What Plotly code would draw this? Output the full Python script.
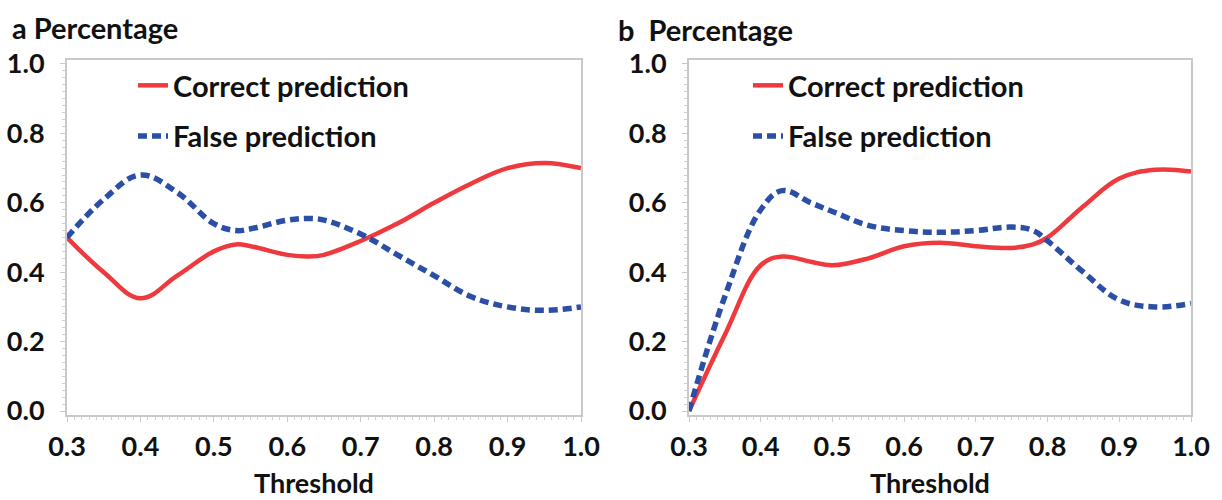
import plotly.graph_objects as go

# ---------------- data ----------------
x_a = [0.30, 0.35, 0.40, 0.45, 0.50, 0.53, 0.55, 0.60, 0.63, 0.65, 0.70, 0.75, 0.80, 0.85, 0.90, 0.95, 1.00]
correct_a = [0.50, 0.40, 0.325, 0.39, 0.46, 0.48, 0.475, 0.45, 0.445, 0.45, 0.49, 0.54, 0.60, 0.655, 0.70, 0.715, 0.70]
false_a = [0.50, 0.61, 0.68, 0.63, 0.54, 0.52, 0.525, 0.55, 0.555, 0.55, 0.51, 0.45, 0.39, 0.33, 0.30, 0.29, 0.30]

x_b = [0.30, 0.35, 0.40, 0.43, 0.47, 0.50, 0.55, 0.60, 0.65, 0.70, 0.75, 0.78, 0.80, 0.85, 0.90, 0.95, 1.00]
correct_b = [0.00, 0.22, 0.42, 0.445, 0.43, 0.42, 0.44, 0.475, 0.485, 0.475, 0.47, 0.48, 0.50, 0.59, 0.67, 0.695, 0.69]
false_b = [0.00, 0.33, 0.58, 0.635, 0.60, 0.575, 0.535, 0.52, 0.515, 0.52, 0.53, 0.52, 0.49, 0.40, 0.32, 0.30, 0.31]

x_ticks = [0.3, 0.4, 0.5, 0.6, 0.7, 0.8, 0.9, 1.0]
x_tick_text = ["0.3", "0.4", "0.5", "0.6", "0.7", "0.8", "0.9", "1.0"]
y_ticks = [0.0, 0.2, 0.4, 0.6, 0.8, 1.0]
y_tick_text = ["0.0", "0.2", "0.4", "0.6", "0.8", "1.0"]

series_names = ["Correct prediction", "False prediction"]
panel_titles = ["a Percentage", "b  Percentage"]
x_title = "Threshold"

# ---------------- style ----------------
RED = "#ee3a3e"
BLUE = "#2c4fa6"
FONT = "Lato"
INK = "#111111"
W, H = 1222, 500

fig = go.Figure()

panels = [
    (x_a, correct_a, false_a, "x", "y", "legend"),
    (x_b, correct_b, false_b, "x2", "y2", "legend2"),
]
for xs, cor, fal, xa, ya, lg in panels:
    fig.add_trace(go.Scatter(
        x=xs, y=cor, mode="lines", name=series_names[0],
        line=dict(color=RED, width=4.5, shape="spline", smoothing=1.1),
        xaxis=xa, yaxis=ya, legend=lg, legendgroup="c" + xa,
    ))
    fig.add_trace(go.Scatter(
        x=xs, y=fal, mode="lines", name=series_names[1],
        line=dict(color=BLUE, width=5.5, dash="9px,5px", shape="spline", smoothing=1.1),
        xaxis=xa, yaxis=ya, legend=lg, legendgroup="f" + xa,
    ))

def px_x(p):
    return p / W

def px_y(p):
    return (H - p) / H

y_dom = [px_y(415), px_y(60)]
yrange = [-0.0115, 1.0115]

axis_common = dict(
    automargin=False,
    showgrid=False, zeroline=False, showline=True, mirror=True,
    linecolor="#c9c9c9", linewidth=2,
    ticks="outside", ticklen=5, tickcolor="#c9c9c9", tickwidth=1,
    tickfont=dict(family=FONT, size=27, color=INK, weight="bold"),
)

x_common = dict(axis_common, range=[0.3, 1.0], tickvals=x_ticks, ticktext=x_tick_text,
                ticklabelstandoff=2,
                minor=dict(ticks="outside", ticklen=3, tickcolor="#d0d0d0", dtick=0.01))
y_common = dict(axis_common, range=yrange, tickvals=y_ticks, ticktext=y_tick_text,
                ticklabelstandoff=10,
                minor=dict(ticks="outside", ticklen=3, tickcolor="#d0d0d0", dtick=0.02))

legend_common = dict(
    font=dict(family=FONT, size=29, color=INK, weight="bold"),
    bgcolor="rgba(0,0,0,0)", borderwidth=0,
    xanchor="left", yanchor="top", traceorder="grouped", tracegroupgap=10,
    itemwidth=30,
)

title_font = dict(family=FONT, size=29, color=INK, weight="bold")
xtitle_font = dict(family=FONT, size=27, color=INK, weight="bold")

fig.update_layout(
    template="none",
    width=W, height=H,
    margin=dict(l=0, r=0, t=0, b=0, autoexpand=False),
    paper_bgcolor="white", plot_bgcolor="white",
    showlegend=True,
    xaxis=dict(x_common, domain=[px_x(67), px_x(581)], anchor="y"),
    yaxis=dict(y_common, domain=y_dom, anchor="x"),
    xaxis2=dict(x_common, domain=[px_x(689), px_x(1191)], anchor="y2"),
    yaxis2=dict(y_common, domain=y_dom, anchor="x2"),
    legend=dict(legend_common, x=px_x(133), y=px_y(60)),
    legend2=dict(legend_common, x=px_x(748), y=px_y(60)),
    annotations=[
        dict(text=panel_titles[0], x=px_x(10), y=px_y(27), xref="paper", yref="paper",
             xanchor="left", yanchor="middle", showarrow=False, font=title_font),
        dict(text=panel_titles[1], x=px_x(616), y=px_y(29), xref="paper", yref="paper",
             xanchor="left", yanchor="middle", showarrow=False, font=title_font),
        dict(text=x_title, x=0.48, y=px_y(482), xref="x domain", yref="paper",
             xanchor="center", yanchor="middle", showarrow=False, font=xtitle_font),
        dict(text=x_title, x=0.48, y=px_y(482), xref="x2 domain", yref="paper",
             xanchor="center", yanchor="middle", showarrow=False, font=xtitle_font),
    ],
)

fig.write_html("out.html", config={"displayModeBar": False},
               post_script="document.body.style.margin='0';")
